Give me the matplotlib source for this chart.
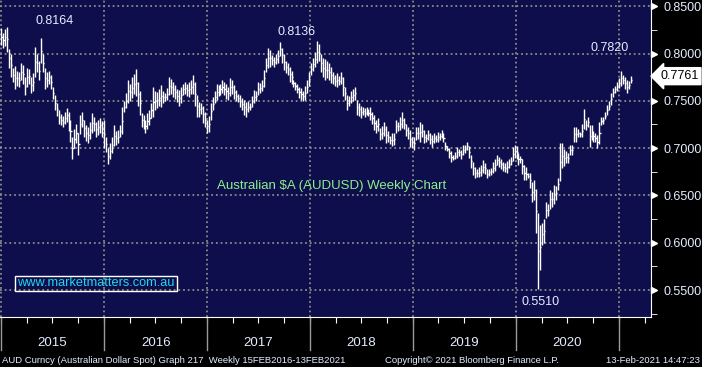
import matplotlib.pyplot as plt
import matplotlib.dates as mdates
import matplotlib.transforms as mtransforms
from matplotlib.ticker import FixedLocator, MultipleLocator
import numpy as np
import pandas as pd

plt.rcParams["font.family"] = ["Liberation Sans", "DejaVu Sans"]

# weekly AUDUSD high / low
hi_2015 = [0.827, 0.822, 0.826, 0.828, 0.805, 0.800, 0.785, 0.787, 0.782, 0.780,
           0.790, 0.788, 0.775, 0.785, 0.784, 0.775, 0.779, 0.807, 0.800, 0.792,
           0.8164, 0.800, 0.785, 0.780, 0.782, 0.777, 0.765, 0.756, 0.748, 0.740,
           0.736, 0.734, 0.738, 0.742, 0.738, 0.730, 0.712, 0.720, 0.726, 0.716,
           0.735, 0.738, 0.730, 0.724, 0.722, 0.728, 0.737, 0.733, 0.728, 0.730,
           0.732, 0.729]
lo_2015 = [0.809, 0.806, 0.808, 0.802, 0.785, 0.775, 0.770, 0.762, 0.766, 0.765,
           0.772, 0.768, 0.756, 0.765, 0.768, 0.758, 0.760, 0.775, 0.780, 0.772,
           0.790, 0.780, 0.763, 0.765, 0.768, 0.762, 0.752, 0.740, 0.734, 0.725,
           0.724, 0.722, 0.726, 0.728, 0.718, 0.706, 0.689, 0.700, 0.705, 0.693,
           0.715, 0.722, 0.712, 0.708, 0.705, 0.710, 0.716, 0.718, 0.712, 0.714,
           0.716, 0.712]
hi_2016 = [0.730, 0.712, 0.700, 0.705, 0.712, 0.724, 0.718, 0.719, 0.724, 0.743,
           0.750, 0.758, 0.772, 0.768, 0.775, 0.778, 0.7835, 0.770, 0.760, 0.737,
           0.735, 0.730, 0.737, 0.740, 0.748, 0.765, 0.760, 0.759, 0.762, 0.767,
           0.760, 0.758, 0.764, 0.775, 0.773, 0.770, 0.767, 0.762, 0.761, 0.765,
           0.768, 0.770, 0.768, 0.770, 0.772, 0.7778, 0.770, 0.756, 0.749, 0.748,
           0.745, 0.738, 0.730]
lo_2016 = [0.700, 0.696, 0.683, 0.688, 0.695, 0.702, 0.703, 0.705, 0.712, 0.715,
           0.738, 0.742, 0.748, 0.750, 0.753, 0.757, 0.755, 0.745, 0.735, 0.722,
           0.720, 0.716, 0.720, 0.724, 0.732, 0.733, 0.740, 0.742, 0.745, 0.743,
           0.748, 0.750, 0.751, 0.756, 0.757, 0.754, 0.752, 0.749, 0.745, 0.748,
           0.756, 0.757, 0.755, 0.754, 0.757, 0.757, 0.745, 0.733, 0.733, 0.736,
           0.727, 0.722, 0.716]
hi_2017 = [0.734, 0.748, 0.754, 0.760, 0.768, 0.767, 0.768, 0.772, 0.770, 0.768,
           0.765, 0.774, 0.772, 0.767, 0.761, 0.757, 0.756, 0.753, 0.751, 0.749,
           0.750, 0.748, 0.755, 0.761, 0.760, 0.770, 0.769, 0.772, 0.783, 0.795,
           0.806, 0.804, 0.798, 0.796, 0.800, 0.804, 0.8125, 0.806, 0.800, 0.792,
           0.790, 0.786, 0.782, 0.772, 0.770, 0.768, 0.765, 0.764, 0.760, 0.766,
           0.772, 0.780]
lo_2017 = [0.717, 0.730, 0.740, 0.748, 0.751, 0.755, 0.756, 0.758, 0.756, 0.752,
           0.751, 0.755, 0.757, 0.752, 0.750, 0.749, 0.744, 0.740, 0.735, 0.733,
           0.738, 0.740, 0.744, 0.748, 0.750, 0.756, 0.758, 0.760, 0.765, 0.780,
           0.785, 0.786, 0.788, 0.786, 0.789, 0.790, 0.797, 0.790, 0.783, 0.779,
           0.777, 0.770, 0.768, 0.765, 0.761, 0.758, 0.753, 0.751, 0.7501, 0.751,
           0.758, 0.766]
hi_2018 = [0.790, 0.795, 0.8015, 0.8136, 0.810, 0.800, 0.795, 0.794, 0.792, 0.790,
           0.786, 0.780, 0.777, 0.779, 0.776, 0.781, 0.775, 0.765, 0.756, 0.755,
           0.760, 0.762, 0.765, 0.751, 0.748, 0.745, 0.743, 0.742, 0.743, 0.741,
           0.743, 0.738, 0.735, 0.730, 0.732, 0.721, 0.723, 0.728, 0.723, 0.718,
           0.713, 0.716, 0.716, 0.730, 0.728, 0.733, 0.738, 0.732, 0.725, 0.722,
           0.719, 0.712]
lo_2018 = [0.777, 0.782, 0.786, 0.790, 0.792, 0.781, 0.775, 0.772, 0.774, 0.772,
           0.769, 0.768, 0.766, 0.765, 0.767, 0.768, 0.755, 0.751, 0.740, 0.745,
           0.748, 0.750, 0.751, 0.735, 0.734, 0.732, 0.735, 0.733, 0.735, 0.734,
           0.730, 0.726, 0.719, 0.716, 0.718, 0.709, 0.710, 0.713, 0.705, 0.706,
           0.704, 0.702, 0.703, 0.716, 0.718, 0.719, 0.721, 0.720, 0.713, 0.710,
           0.701, 0.700]
hi_2019 = [0.712, 0.722, 0.722, 0.7275, 0.725, 0.719, 0.715, 0.719, 0.716, 0.714,
           0.716, 0.714, 0.717, 0.716, 0.719, 0.716, 0.707, 0.702, 0.700, 0.697,
           0.693, 0.696, 0.701, 0.699, 0.698, 0.703, 0.703, 0.707, 0.702, 0.693,
           0.685, 0.680, 0.678, 0.680, 0.682, 0.687, 0.684, 0.678, 0.678, 0.679,
           0.685, 0.688, 0.693, 0.691, 0.689, 0.685, 0.684, 0.686, 0.688, 0.691,
           0.701, 0.703]
lo_2019 = [0.698, 0.709, 0.710, 0.707, 0.712, 0.705, 0.706, 0.709, 0.704, 0.701,
           0.705, 0.706, 0.707, 0.709, 0.711, 0.706, 0.698, 0.697, 0.690, 0.685,
           0.687, 0.688, 0.690, 0.692, 0.689, 0.693, 0.695, 0.698, 0.690, 0.679,
           0.672, 0.668, 0.670, 0.670, 0.671, 0.674, 0.673, 0.668, 0.671, 0.672,
           0.674, 0.676, 0.682, 0.680, 0.678, 0.676, 0.675, 0.674, 0.679, 0.682,
           0.686, 0.690]
hi_2020 = [0.702, 0.695, 0.692, 0.689, 0.682, 0.680, 0.674, 0.674, 0.664, 0.666,
           0.657, 0.631, 0.619, 0.621, 0.625, 0.643, 0.641, 0.656, 0.654, 0.661,
           0.660, 0.668, 0.705, 0.705, 0.699, 0.697, 0.695, 0.703, 0.703, 0.722,
           0.722, 0.720, 0.717, 0.725, 0.7414, 0.730, 0.733, 0.724, 0.724, 0.718,
           0.716, 0.714, 0.728, 0.733, 0.733, 0.738, 0.746, 0.750, 0.758, 0.764,
           0.766, 0.770]
lo_2020 = [0.689, 0.682, 0.684, 0.673, 0.666, 0.666, 0.668, 0.658, 0.643, 0.645,
           0.610, 0.551, 0.571, 0.598, 0.600, 0.626, 0.628, 0.636, 0.638, 0.641,
           0.645, 0.656, 0.665, 0.679, 0.681, 0.684, 0.684, 0.693, 0.693, 0.707,
           0.707, 0.712, 0.712, 0.712, 0.720, 0.719, 0.722, 0.701, 0.709, 0.707,
           0.706, 0.700, 0.704, 0.724, 0.726, 0.731, 0.735, 0.740, 0.746, 0.754,
           0.758, 0.760]
hi_2021 = [0.774, 0.7820, 0.777, 0.775, 0.772, 0.771, 0.7765]
lo_2021 = [0.764, 0.766, 0.768, 0.763, 0.758, 0.762, 0.7685]

last_price = 0.7761
marked_highs = [0.8164, 0.8136, 0.7820]
marked_lows = [0.5510]
years = [2015, 2016, 2017, 2018, 2019, 2020]
y_ticks = [0.55, 0.60, 0.65, 0.70, 0.75, 0.80, 0.85]

hi = np.array(hi_2015 + hi_2016 + hi_2017 + hi_2018 + hi_2019 + hi_2020 + hi_2021)
lo = np.array(lo_2015 + lo_2016 + lo_2017 + lo_2018 + lo_2019 + lo_2020 + lo_2021)
dates = pd.date_range(end="2021-02-12", periods=len(hi), freq="W-FRI")

navy = "#0e0e4c"
grid_c = "#8a8a8a"
txt_c = "#e4ecff"

fig = plt.figure(figsize=(7.02, 3.67), dpi=100, facecolor="black")
ax = fig.add_axes([0, 50 / 367, 651 / 702, 317 / 367])
ax.set_facecolor(navy)

ax.set_xlim(pd.Timestamp("2014-12-28"), pd.Timestamp("2021-04-24"))
ax.set_ylim(0.5215, 0.8566)

# dotted grid
for y in y_ticks:
    ax.axhline(y, color=grid_c, lw=1.3, ls=(0, (1, 1.6)), zorder=1)
for yr in years + [2021]:
    ax.axvline(pd.Timestamp(f"{yr}-01-01"), color=grid_c, lw=1.3, ls=(0, (1, 1.6)), zorder=1)

# high-low bars with a small tick
ax.vlines(dates, lo, hi, color="white", lw=1.0, zorder=3)
ax.hlines((hi + lo) / 2, dates, dates + pd.Timedelta(days=4), color="white", lw=1.0, zorder=3)

# labels on extremes (last matching week)
for v, (dx, dy) in zip(marked_highs, [(10, 12), (-15, 6), (-8, 16)]):
    i = int(np.where(np.isclose(hi, v))[0][-1])
    ax.annotate(f"{v:.4f}", (dates[i], hi[i]), xytext=(dx, dy), textcoords="offset points",
                ha="center", va="center", color=txt_c, fontsize=9)
for v in marked_lows:
    i = int(np.where(np.isclose(lo, v))[0][-1])
    ax.annotate(f"{v:.4f}", (dates[i], lo[i]), xytext=(2, -9), textcoords="offset points",
                ha="center", va="center", color=txt_c, fontsize=9)

ax.text(0.51, 0.413, "Australian $A (AUDUSD) Weekly Chart", transform=ax.transAxes,
        ha="center", va="center", color="#8cf08c", fontsize=9.5)
ax.text(0.1475, 0.1057, "www.marketmatters.com.au", transform=ax.transAxes,
        ha="center", va="center", color="#20d8ec", fontsize=9.2,
        bbox=dict(boxstyle="square,pad=0.15", fc="none", ec="white", lw=1))

# spines
for s in ["left", "top"]:
    ax.spines[s].set_visible(False)
ax.spines["right"].set_color("white")
ax.spines["bottom"].set_color("white")

# right price axis
ax.yaxis.tick_right()
ax.yaxis.set_major_locator(FixedLocator(y_ticks))
ax.set_yticklabels([f"{v:.4f}" for v in y_ticks])
ax.yaxis.set_minor_locator(MultipleLocator(0.025))
ax.tick_params(axis="y", which="major", length=0, pad=9, labelcolor=txt_c, labelsize=9)
ax.tick_params(axis="y", which="minor", length=4, color="white", direction="out")
blend_y = mtransforms.blended_transform_factory(ax.transAxes, ax.transData)
ax.plot(np.full(len(y_ticks), 1.0046), y_ticks, marker=">", ls="none", color="white",
        ms=5, transform=blend_y, clip_on=False)

ax.text(1.014, last_price, f"{last_price:.4f}", transform=blend_y, ha="left", va="center",
        color="black", fontsize=9,
        bbox=dict(boxstyle="larrow,pad=0.2", fc="white", ec="white"))

# time axis
ax.xaxis.set_major_locator(mdates.MonthLocator(bymonth=[1, 4, 7, 10]))
ax.xaxis.set_major_formatter(plt.NullFormatter())
ax.tick_params(axis="x", length=4, color="white", direction="out")
blend_x = mtransforms.blended_transform_factory(ax.transData, ax.transAxes)
for yr in years + [2021]:
    ax.plot([pd.Timestamp(f"{yr}-01-01")] * 2, [0, -0.105], color="#9a9a9a", lw=1,
            transform=blend_x, clip_on=False)
for yr in years:
    ax.text(pd.Timestamp(f"{yr}-07-02"), -0.082, str(yr), transform=blend_x,
            ha="center", va="center", color=txt_c, fontsize=9.5)

fig.text(2 / 702, 0.019, "AUD Curncy (Australian Dollar Spot) Graph 217  Weekly 15FEB2016-13FEB2021",
         color=txt_c, fontsize=6.8, ha="left", va="center")
fig.text(385 / 702, 0.019, "Copyright\u00a9 2021 Bloomberg Finance L.P.",
         color=txt_c, fontsize=6.8, ha="left", va="center")
fig.text(700 / 702, 0.019, "13-Feb-2021 14:47:23", color=txt_c, fontsize=6.8,
         ha="right", va="center")

fig.savefig("out.png", dpi=100, facecolor="black")
